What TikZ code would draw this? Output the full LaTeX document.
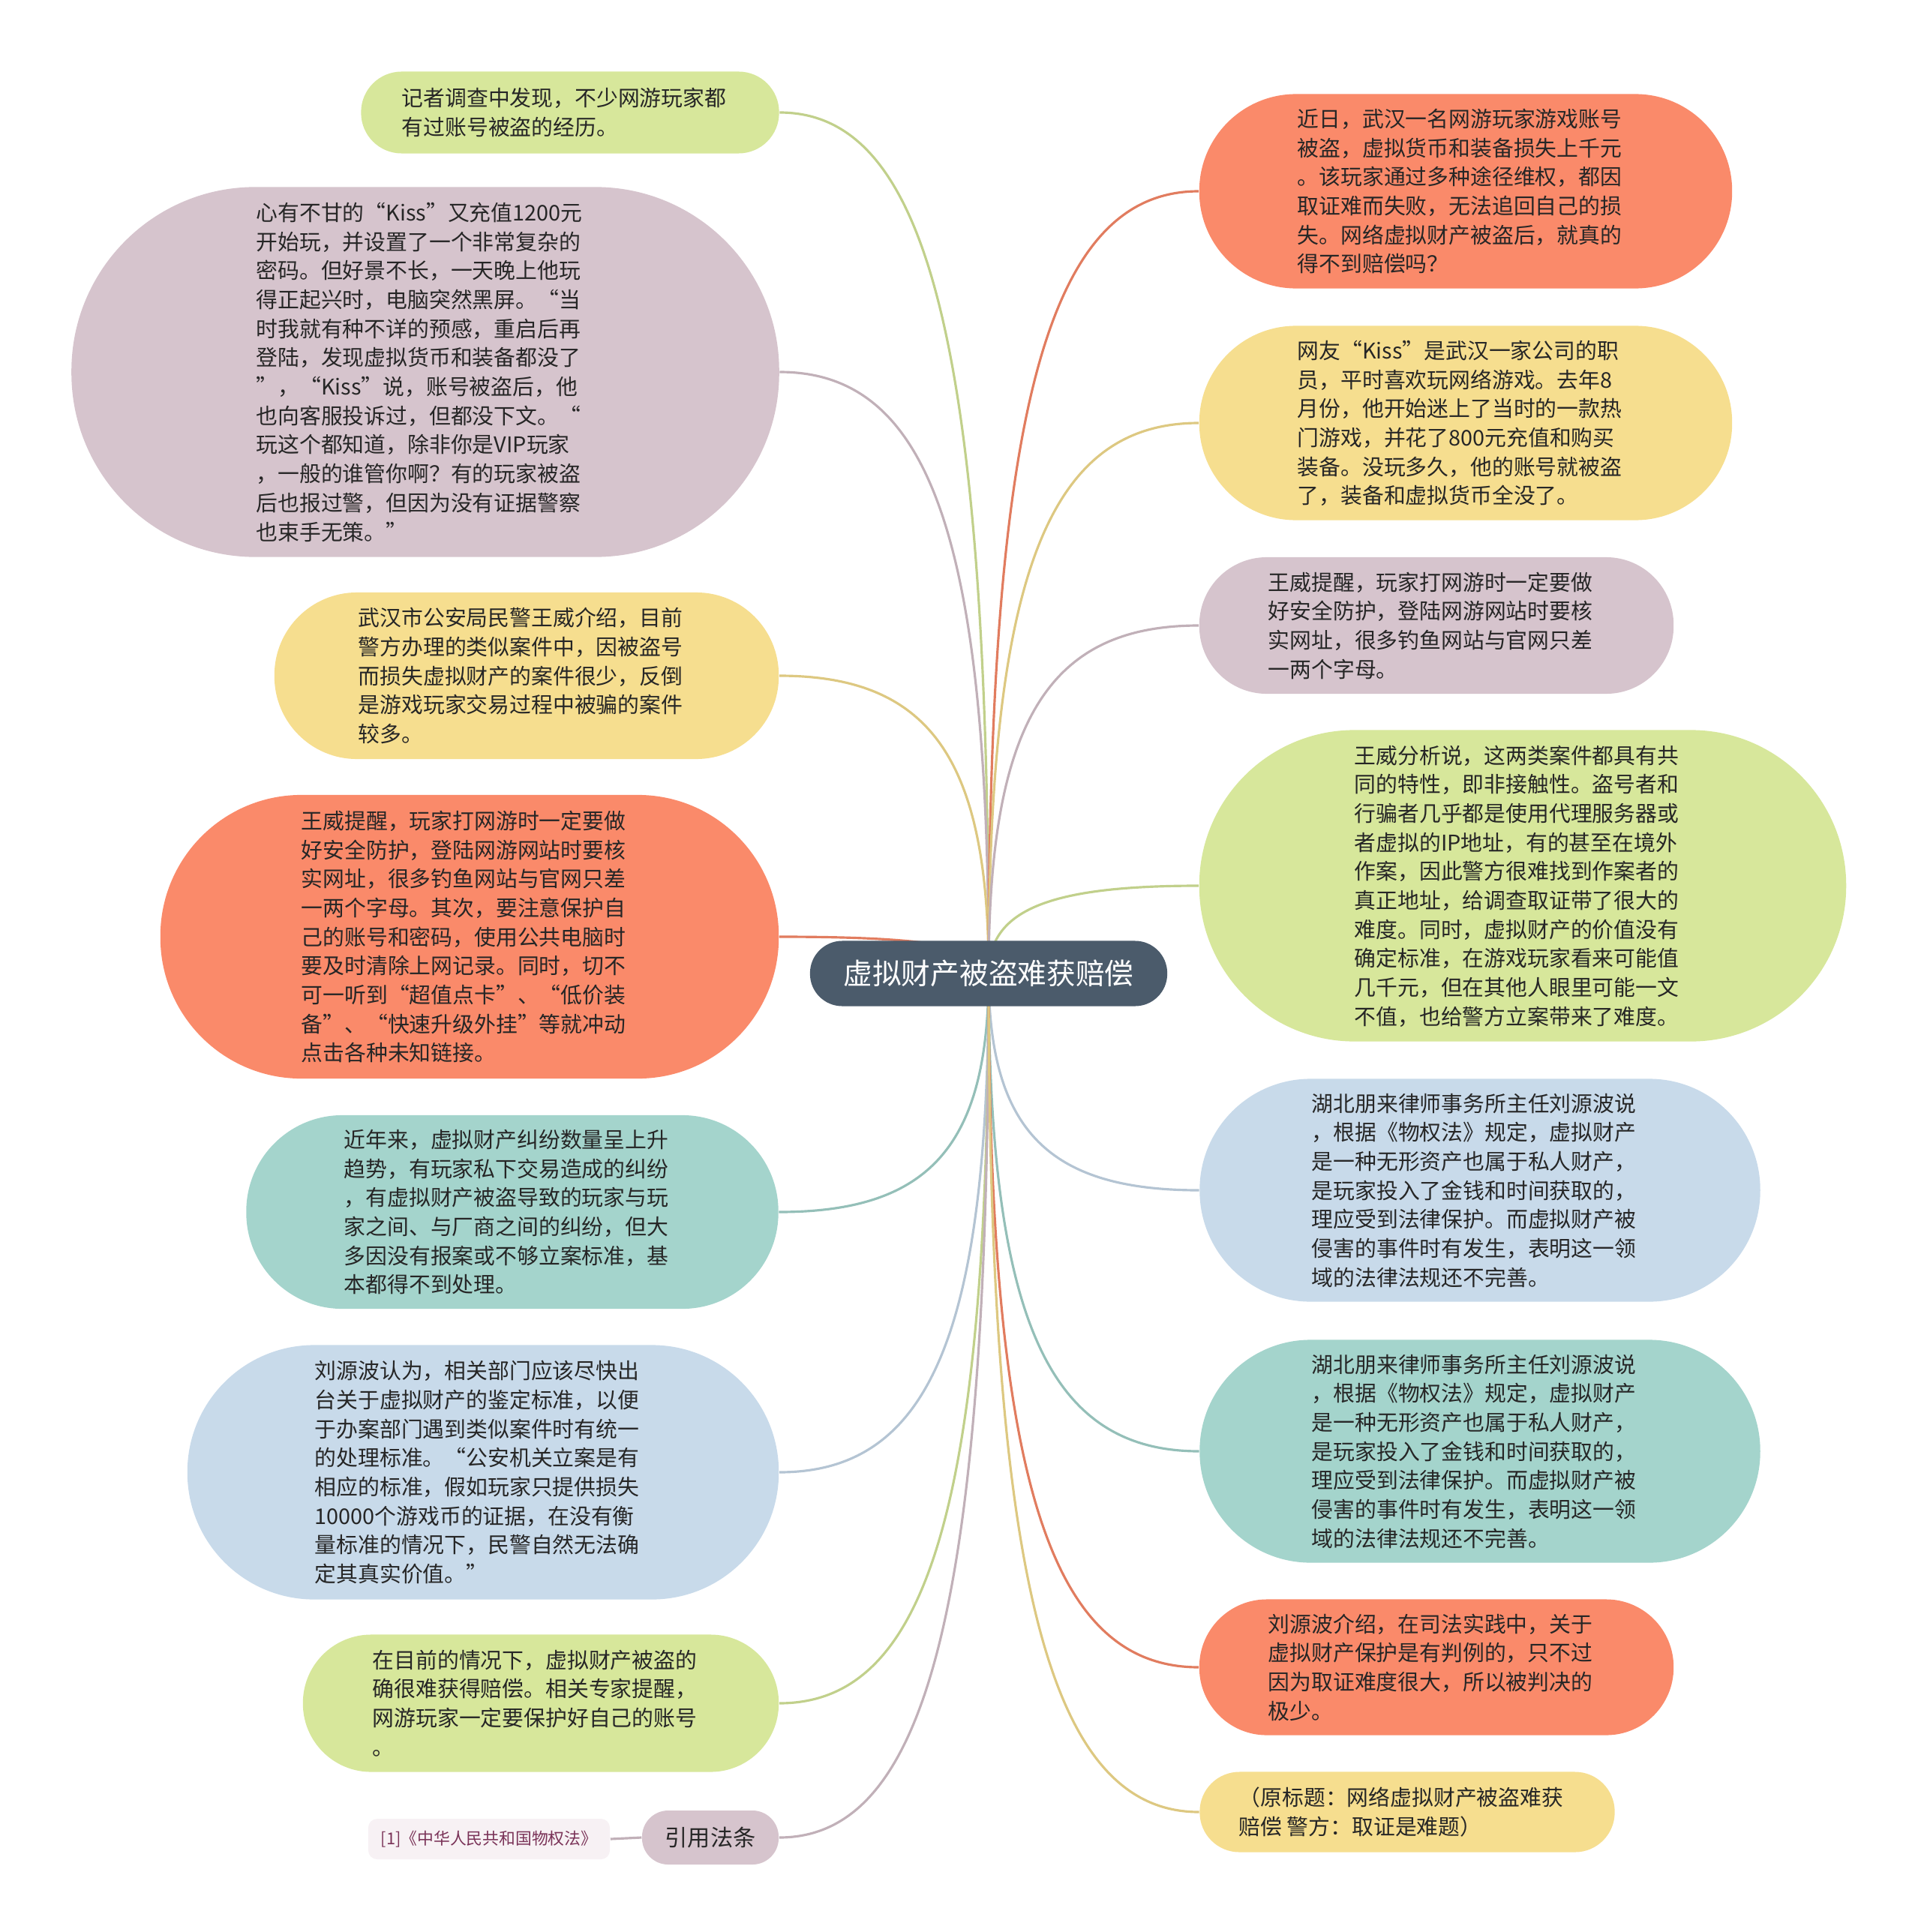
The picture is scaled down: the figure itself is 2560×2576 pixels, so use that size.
\documentclass[tikz,border=0pt]{standalone}
\usepackage{fontspec}
\setmainfont{Noto Sans CJK SC}
\usetikzlibrary{calc,backgrounds}
\definecolor{cOrange}{HTML}{FA8A6A}
\definecolor{cYellow}{HTML}{F6DE8F}
\definecolor{cGreen}{HTML}{D7E79B}
\definecolor{cMauve}{HTML}{D6C4CD}
\definecolor{cTeal}{HTML}{A4D4CC}
\definecolor{cBlue}{HTML}{C8DAEA}
\definecolor{cCenter}{HTML}{4B5B6B}
\definecolor{cText}{HTML}{262626}
\definecolor{cRef}{HTML}{7A3358}
\definecolor{cRefBg}{HTML}{F7F1F4}
\newcommand\tb[1]{\raisebox{-1pt}[\height][\depth]{\begin{tabular}{@{}l@{\hspace{0.16cm}}}#1\end{tabular}}}
\newcommand\mmlink[3]{%
  \coordinate (k#1) at (C.center |- #1.#2);
  \draw[conn,draw=#3!90!black] (C.center) .. controls ($(C.center)!0.72!(k#1)$) and ($(#1.#2)!0.72!(k#1)$) .. (#1.#2);}
\begin{document}
\begin{tikzpicture}[x=0.01cm,y=-0.01cm,
  plain/.style={inner sep=0pt, text=cText, font=\fontsize{8.2pt}{11pt}\selectfont},
  bub/.style={plain},
  conn/.style={line width=0.9pt},
]
\useasboundingbox (0,0) rectangle (2560,2576);

% centre
\node[align=center, inner sep=0pt, fill=cCenter, text=white, font=\fontsize{11pt}{13pt}\selectfont,
  minimum width=4.76cm, minimum height=0.87cm, rounded corners=0.43cm] (C) at (1318,1298) {虚拟财产被盗难获赔偿};

% left side
\node[bub, fill=cGreen, minimum width=5.57cm, minimum height=1.09cm, rounded corners=0.54cm] (L1) at (760,150)
{\tb{记者调查中发现，不少网游玩家都\\有过账号被盗的经历。}};

\node[bub, fill=cMauve, minimum width=9.43cm, minimum height=4.93cm, rounded corners=2.45cm] (L2) at (567,496)
{\tb{心有不甘的“Kiss”又充值1200元\\开始玩，并设置了一个非常复杂的\\密码。但好景不长，一天晚上他玩\\得正起兴时，电脑突然黑屏。“当\\时我就有种不详的预感，重启后再\\登陆，发现虚拟货币和装备都没了\\”，“Kiss”说，账号被盗后，他\\也向客服投诉过，但都没下文。“\\玩这个都知道，除非你是VIP玩家\\，一般的谁管你啊？有的玩家被盗\\后也报过警，但因为没有证据警察\\也束手无策。”}};

\node[bub, fill=cYellow, minimum width=6.72cm, minimum height=2.22cm, rounded corners=1.10cm] (L3) at (702,901)
{\tb{武汉市公安局民警王威介绍，目前\\警方办理的类似案件中，因被盗号\\而损失虚拟财产的案件很少，反倒\\是游戏玩家交易过程中被骗的案件\\较多。}};

\node[bub, fill=cOrange, minimum width=8.24cm, minimum height=3.78cm, rounded corners=1.88cm] (L4) at (626,1249)
{\tb{王威提醒，玩家打网游时一定要做\\好安全防护，登陆网游网站时要核\\实网址，很多钓鱼网站与官网只差\\一两个字母。其次，要注意保护自\\己的账号和密码，使用公共电脑时\\要及时清除上网记录。同时，切不\\可一听到“超值点卡”、“低价装\\备”、“快速升级外挂”等就冲动\\点击各种未知链接。}};

\node[bub, fill=cTeal, minimum width=7.09cm, minimum height=2.58cm, rounded corners=1.28cm] (L5) at (683,1616)
{\tb{近年来，虚拟财产纠纷数量呈上升\\趋势，有玩家私下交易造成的纠纷\\，有虚拟财产被盗导致的玩家与玩\\家之间、与厂商之间的纠纷，但大\\多因没有报案或不够立案标准，基\\本都得不到处理。}};

\node[bub, fill=cBlue, minimum width=7.88cm, minimum height=3.39cm, rounded corners=1.69cm] (L6) at (644,1963)
{\tb{刘源波认为，相关部门应该尽快出\\台关于虚拟财产的鉴定标准，以便\\于办案部门遇到类似案件时有统一\\的处理标准。“公安机关立案是有\\相应的标准，假如玩家只提供损失\\10000个游戏币的证据，在没有衡\\量标准的情况下，民警自然无法确\\定其真实价值。”}};

\node[bub, fill=cGreen, minimum width=6.34cm, minimum height=1.83cm, rounded corners=0.91cm] (L7) at (721,2271)
{\tb{在目前的情况下，虚拟财产被盗的\\确很难获得赔偿。相关专家提醒，\\网游玩家一定要保护好自己的账号\\。}};

\node[plain, fill=cMauve, align=center, minimum width=1.82cm, minimum height=0.72cm, rounded corners=0.35cm,
  font=\fontsize{8.6pt}{10pt}\selectfont] (L8) at (947,2450) {引用法条};

\node[plain, fill=cRefBg, text=cRef, align=center, minimum width=3.22cm, minimum height=0.54cm, rounded corners=0.12cm,
  font=\fontsize{6.2pt}{8pt}\selectfont] (L8a) at (652,2452) {[1]《中华人民共和国物权法》};

% right side
\node[bub, fill=cOrange, minimum width=7.10cm, minimum height=2.59cm, rounded corners=1.29cm] (R1) at (1954,255)
{\tb{近日，武汉一名网游玩家游戏账号\\被盗，虚拟货币和装备损失上千元\\。该玩家通过多种途径维权，都因\\取证难而失败，无法追回自己的损\\失。网络虚拟财产被盗后，就真的\\得不到赔偿吗？}};

\node[bub, fill=cYellow, minimum width=7.10cm, minimum height=2.59cm, rounded corners=1.29cm] (R2) at (1954,564)
{\tb{网友“Kiss”是武汉一家公司的职\\员，平时喜欢玩网络游戏。去年8\\月份，他开始迷上了当时的一款热\\门游戏，并花了800元充值和购买\\装备。没玩多久，他的账号就被盗\\了，装备和虚拟货币全没了。}};

\node[bub, fill=cMauve, minimum width=6.32cm, minimum height=1.82cm, rounded corners=0.90cm] (R3) at (1915,834)
{\tb{王威提醒，玩家打网游时一定要做\\好安全防护，登陆网游网站时要核\\实网址，很多钓鱼网站与官网只差\\一两个字母。}};

\node[bub, fill=cGreen, minimum width=8.62cm, minimum height=4.15cm, rounded corners=2.07cm] (R4) at (2030,1181)
{\tb{王威分析说，这两类案件都具有共\\同的特性，即非接触性。盗号者和\\行骗者几乎都是使用代理服务器或\\者虚拟的IP地址，有的甚至在境外\\作案，因此警方很难找到作案者的\\真正地址，给调查取证带了很大的\\难度。同时，虚拟财产的价值没有\\确定标准，在游戏玩家看来可能值\\几千元，但在其他人眼里可能一文\\不值，也给警方立案带来了难度。}};

\node[bub, fill=cBlue, minimum width=7.47cm, minimum height=2.97cm, rounded corners=1.48cm] (R5) at (1973,1587)
{\tb{湖北朋来律师事务所主任刘源波说\\，根据《物权法》规定，虚拟财产\\是一种无形资产也属于私人财产，\\是玩家投入了金钱和时间获取的，\\理应受到法律保护。而虚拟财产被\\侵害的事件时有发生，表明这一领\\域的法律法规还不完善。}};

\node[bub, fill=cTeal, minimum width=7.47cm, minimum height=2.97cm, rounded corners=1.48cm] (R6) at (1973,1935)
{\tb{湖北朋来律师事务所主任刘源波说\\，根据《物权法》规定，虚拟财产\\是一种无形资产也属于私人财产，\\是玩家投入了金钱和时间获取的，\\理应受到法律保护。而虚拟财产被\\侵害的事件时有发生，表明这一领\\域的法律法规还不完善。}};

\node[bub, fill=cOrange, minimum width=6.32cm, minimum height=1.81cm, rounded corners=0.90cm] (R7) at (1915,2223)
{\tb{刘源波介绍，在司法实践中，关于\\虚拟财产保护是有判例的，只不过\\因为取证难度很大，所以被判决的\\极少。}};

\node[bub, fill=cYellow, minimum width=5.53cm, minimum height=1.07cm, rounded corners=0.53cm] (R8) at (1876,2416)
{\tb{（原标题：网络虚拟财产被盗难获\\赔偿 警方：取证是难题）}};

% connectors
\begin{scope}[on background layer]
\mmlink{L1}{east}{cGreen}
\mmlink{L2}{east}{cMauve}
\mmlink{L3}{east}{cYellow}
\mmlink{L4}{east}{cOrange}
\mmlink{L5}{east}{cTeal}
\mmlink{L6}{east}{cBlue}
\mmlink{L7}{east}{cGreen}
\mmlink{L8}{east}{cMauve}
\mmlink{R1}{west}{cOrange}
\mmlink{R2}{west}{cYellow}
\mmlink{R3}{west}{cMauve}
\mmlink{R4}{west}{cGreen}
\mmlink{R5}{west}{cBlue}
\mmlink{R6}{west}{cTeal}
\mmlink{R7}{west}{cOrange}
\mmlink{R8}{west}{cYellow}
\draw[conn,draw=cMauve!90!black] (L8a.east) -- (L8.west);
\end{scope}
\end{tikzpicture}
\end{document}
